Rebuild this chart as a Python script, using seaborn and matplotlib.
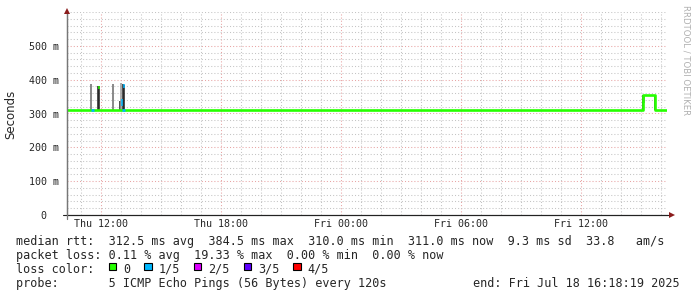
import matplotlib
matplotlib.use("Agg")
import matplotlib.pyplot as plt
import matplotlib.dates as mdates
import matplotlib.ticker as mticker
from matplotlib.patches import Rectangle
import seaborn as sns
import pandas as pd

# ---------------- data ----------------
start = "2025-07-17 10:18:19"
end = "2025-07-18 16:18:19"

# median rtt (ms) as a step series, with loss count of each step
median_time = ["2025-07-17 10:18:19", "2025-07-17 11:30:00", "2025-07-17 11:39:00",
               "2025-07-17 13:03:00", "2025-07-17 13:12:00", "2025-07-17 14:33:00",
               "2025-07-17 18:00:00", "2025-07-18 15:06:00", "2025-07-18 15:42:00",
               "2025-07-18 16:18:19"]
median_ms = [311.0, 311.0, 311.0, 311.0, 311.0, 310.4, 311.0, 355.0, 311.0, 311.0]
median_loss = [0, 1, 0, 1, 0, 0, 0, 0, 0, 0]

# smoke (spread of the individual pings), ms
smoke_time = ["2025-07-17 11:30:00", "2025-07-17 11:51:00", "2025-07-17 11:54:00",
              "2025-07-17 12:36:00", "2025-07-17 12:57:00", "2025-07-17 13:00:00",
              "2025-07-17 13:06:00", "2025-07-17 13:09:00",
              "2025-07-18 15:06:00", "2025-07-18 15:09:00", "2025-07-18 15:42:00"]
smoke_lo = [311, 311, 311, 311, 311, 311, 311, 311, 311, 331, 311]
smoke_hi = [386, 381, 381, 386, 338, 390, 386, 385, 355, 355, 355]
smoke_shade = ["mid", "dark", "dark", "mid", "dark", "light", "dark", "dark",
               "dark", "mid", "dark"]

# short coloured median pieces inside the smoke
tip_time = ["2025-07-17 11:54:00", "2025-07-17 13:03:00", "2025-07-17 13:09:00"]
tip_lo = [372, 322, 376]
tip_hi = [381, 342, 386]
tip_loss = [0, 1, 1]

loss_labels = ["0", "1/5", "2/5", "3/5", "4/5"]
loss_colors = ["#26ff00", "#00b8ff", "#dd00ff", "#5e00ff", "#ff0000"]

line_rtt = ("median rtt:  312.5 ms avg  384.5 ms max  310.0 ms min  "
            "311.0 ms now  9.3 ms sd  33.8   am/s")
line_loss = "packet loss: 0.11 % avg  19.33 % max  0.00 % min  0.00 % now"
probe_text = "probe:       5 ICMP Echo Pings (56 Bytes) every 120s"
end_text = "end: Fri Jul 18 16:18:19 2025"

# ---------------- style ----------------
sns.set_style("white")
plt.rcParams["font.family"] = ["DejaVu Sans Mono"]
MONO = "DejaVu Sans Mono"
FS = 8.5
TFS = 7.2
W, H = 697, 297

fig = plt.figure(figsize=(W / 100, H / 100), dpi=100)
fig.patch.set_facecolor("white")
ax = fig.add_axes([67 / W, 82 / H, 600 / W, 203 / H])
ax.set_facecolor("white")

t0, t1 = pd.Timestamp(start), pd.Timestamp(end)

# smoke
shade_col = {"light": "#9a9a9a", "mid": "#6a6a6a", "dark": "#1e1e1e"}
st = pd.to_datetime(pd.Series(smoke_time))
ax.vlines(st, smoke_lo, smoke_hi, colors=[shade_col[s] for s in smoke_shade],
          linewidth=1.1, zorder=3)

# median line
df = pd.DataFrame({"time": pd.to_datetime(pd.Series(median_time)), "ms": median_ms})
sns.lineplot(data=df, x="time", y="ms", ax=ax, color=loss_colors[0],
             drawstyle="steps-post", linewidth=1.9, zorder=4, estimator=None)
mt = df["time"]
for i in range(len(median_time) - 1):
    if median_loss[i] > 0:
        ax.hlines(median_ms[i], mt[i], mt[i + 1], color=loss_colors[median_loss[i]],
                  linewidth=1.9, zorder=5)
tt = pd.to_datetime(pd.Series(tip_time))
ax.vlines(tt, tip_lo, tip_hi, colors=[loss_colors[l] for l in tip_loss],
          linewidth=1.1, zorder=5)

ax.set_xlim(t0, t1)
ax.set_ylim(0, 600)
ax.set_xlabel("")
ax.set_ylabel("")

# grid
ax.xaxis.set_major_locator(mdates.HourLocator(byhour=[0, 6, 12, 18]))
ax.xaxis.set_minor_locator(mdates.HourLocator())
ax.xaxis.set_major_formatter(mdates.DateFormatter("%a %H:%M"))
ax.yaxis.set_major_locator(mticker.FixedLocator([0, 100, 200, 300, 400, 500]))
ax.yaxis.set_minor_locator(mticker.MultipleLocator(20))
ax.yaxis.set_major_formatter(
    mticker.FuncFormatter(lambda v, p: "0  " if v == 0 else f"{int(v)} m"))
ax.grid(which="minor", color="#c4c4c4", linestyle=(0, (1, 2)), linewidth=0.75)
ax.grid(which="major", color="#e8a4a4", linestyle=(0, (1, 2)), linewidth=0.75)
ax.set_axisbelow(True)

# axes
for s in ["top", "right"]:
    ax.spines[s].set_visible(False)
ax.spines["left"].set_color("#777777")
ax.spines["left"].set_linewidth(0.9)
ax.spines["bottom"].set_color("#222222")
ax.spines["bottom"].set_linewidth(0.8)
ax.tick_params(axis="y", which="major", direction="inout", length=5, width=0.7,
               color="#d89090", labelsize=TFS, pad=3.5)
ax.tick_params(axis="y", which="minor", direction="inout", length=3, width=0.7,
               color="#999999")
ax.tick_params(axis="x", which="major", direction="out", length=2, width=0.7,
               color="#d89090", labelsize=TFS, pad=1.2)
ax.tick_params(axis="x", which="minor", direction="out", length=2, width=0.7,
               color="#999999")
for lbl in ax.get_yticklabels() + ax.get_xticklabels():
    lbl.set_fontfamily(MONO)

# axis extensions and arrows
ax.plot([-4 / 600, 1.0 + 3 / 600], [0, 0], color="#222222", lw=0.8,
        transform=ax.transAxes, clip_on=False, zorder=6)
ax.plot([0, 0], [-4 / 203, 1.0], color="#777777", lw=0.9,
        transform=ax.transAxes, clip_on=False, zorder=6)
ax.plot([0], [1.0 + 1.5 / 203], marker="^", ms=4, color="#8b1c1c", mew=0,
        transform=ax.transAxes, clip_on=False, zorder=7)
ax.plot([1.0 + 5 / 600], [0], marker=">", ms=4, color="#8b1c1c", mew=0,
        transform=ax.transAxes, clip_on=False, zorder=7)

# y label and watermark
fig.text(11 / W, 1 - 114 / H, "Seconds", rotation=90, ha="center", va="center",
         fontsize=FS, family="DejaVu Sans")
fig.text(686 / W, 1 - 60 / H, "RRDTOOL / TOBI OETIKER", rotation=270,
         ha="center", va="center", fontsize=6.1, family="DejaVu Sans",
         color="#b0b0b0")


def ftext(x, y, s, **kw):
    fig.text(x / W, 1 - y / H, s, ha="left", va="center", fontsize=FS,
             family=MONO, **kw)


# legend text lines
ftext(16, 241.5, line_rtt)
ftext(16, 255.5, line_loss)

ftext(16, 269.5, "loss color:")
cw = 7.1
bx = 108.7
for lab, col in zip(loss_labels, loss_colors):
    fig.add_artist(Rectangle((bx / W, 1 - 270.2 / H), 7.4 / W, 7.4 / H,
                             transform=fig.transFigure, facecolor=col,
                             edgecolor="black", linewidth=0.8))
    ftext(bx + 2 * cw, 269.5, lab)
    bx += (4 + len(lab)) * cw

ftext(16, 283.5, probe_text)
fig.text(680 / W, 1 - 283.5 / H, end_text, ha="right", va="center",
         fontsize=FS, family=MONO)

fig.savefig("out.png", dpi=100, facecolor="white")
